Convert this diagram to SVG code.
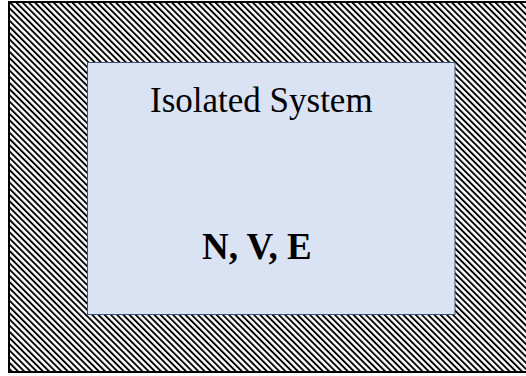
<svg xmlns="http://www.w3.org/2000/svg" width="526" height="376" viewBox="0 0 526 376">
<defs>
<pattern id="hatch" patternUnits="userSpaceOnUse" width="4.4" height="4.4" patternTransform="rotate(-45)">
<rect width="4.4" height="4.4" fill="#fff"/>
<rect width="1.9" height="4.4" fill="#000"/>
</pattern>
<style>
.t{font-family:"Liberation Serif","Times New Roman",serif;fill:#000}
</style>
</defs>
<rect width="526" height="376" fill="#fff"/>
<g id="surroundings">
<rect x="9" y="2" width="530" height="370" fill="url(#hatch)" stroke="#000" stroke-width="2"/>
</g>
<g id="isolated-system">
<rect x="87.5" y="62.5" width="367.5" height="252" fill="#dae3f3" stroke="#41507a" stroke-width="1"/>
<text class="t" x="150" y="112" font-size="35" font-family="Liberation Serif, serif">Isolated System</text>
<text class="t" x="202" y="259" font-size="37" font-weight="bold" font-family="Liberation Serif, serif">N, V, E</text>
</g>
</svg>
